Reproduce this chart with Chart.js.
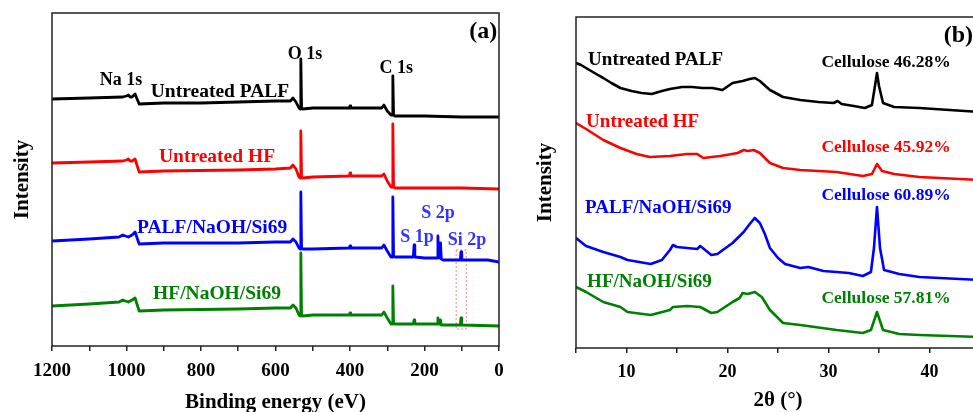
<!DOCTYPE html>
<html>
<head>
<meta charset="utf-8">
<script src="https://cdn.jsdelivr.net/npm/chart.js@4.4.0/dist/chart.umd.min.js"></script>
<style>
  html, body { margin: 0; padding: 0; background: #fff; overflow: hidden; width: 973px; height: 412px; }
  #wrap { position: relative; width: 973px; height: 412px; overflow: hidden; }
  #xps { position: absolute; left: 0; top: 0; }
  #xrd { position: absolute; left: 510px; top: 0; }
</style>
</head>
<body>
<div id="wrap">
  <canvas id="xps" width="510" height="412"></canvas>
  <canvas id="xrd" width="471" height="412"></canvas>
</div>
<script>
// ---- (a) XPS survey: [binding energy eV, intensity a.u.]
const xpsPalf = [[1200,247],[1100,248],[1010,249],[1000,250],[995,251],[990,249],[985,249],[977,252],[966,242],[900,243],[800,243],[700,244],[600,245],[560,245],[553,248],[545,244],[537,238],[534,237],[532,287],[530,238],[527,237],[500,238],[402,238],[400,240],[398,238],[315,238],[309,241],[300,235],[290,231],[287,231],[285,270],[283,231],[280,230],[200,230],[100,229],[0,229]];
const xpsHf = [[1200,183],[1100,184],[1010,185],[1000,186],[995,187],[990,185],[985,185],[977,187],[966,174],[900,175],[700,176],[600,177],[560,178],[553,181],[545,177],[537,169],[534,168],[532,215],[530,169],[527,168],[500,169],[402,170],[400,173],[398,170],[315,170],[309,172],[300,165],[290,159],[287,159],[285,222],[283,159],[280,158],[200,158],[100,158],[0,157]];
const xpsPalfSi = [[1200,105],[1100,107],[1020,109],[1010,111],[1003,110],[995,109],[985,111],[977,114],[966,102],[900,103],[700,103],[600,104],[560,104],[553,107],[545,104],[537,98],[534,97],[532,154],[530,98],[527,97],[500,97],[402,98],[400,100],[398,98],[315,98],[309,101],[300,95],[290,89],[287,89],[285,149],[283,90],[280,89],[230,89],[228,101],[226,89],[200,88],[166,88],[164,110],[162,89],[159,88],[157,103],[155,87],[150,86],[104,86],[102,94],[100,86],[30,86],[0,84]];
const xpsHfSi = [[1200,40],[1100,42],[1020,44],[1010,46],[1003,45],[995,44],[985,46],[977,48],[966,35],[900,36],[700,37],[600,38],[560,38],[553,41],[545,38],[537,31],[534,30],[532,93],[530,31],[527,30],[500,31],[402,31],[400,33],[398,31],[315,31],[309,34],[300,28],[290,22],[287,22],[285,60],[283,23],[280,22],[230,22],[228,26],[226,22],[166,22],[164,28],[162,22],[159,22],[157,26],[155,21],[104,21],[102,28],[100,21],[0,20]];
const siBox = [[115,96],[88,96],[88,17],[115,17],[115,96]];

// ---- (b) XRD: [2theta deg, intensity a.u.]
const xrdPalf = [[5,285],[5.5,283],[6,280],[7,274],[7.7,270],[8.5,265],[9.4,260],[10.5,257],[11.5,255],[12.5,254],[13.5,257],[14.3,259],[15.5,261],[16.5,261],[17.5,260],[18.5,260],[19.5,258],[20.5,265],[21.5,267],[22.2,269],[22.7,270],[23.2,267],[24.2,258],[25.5,251],[27.2,248],[29,246],[30.5,245],[30.9,247],[31.3,244],[32.5,242],[33.6,240],[34.3,243],[34.6,262],[34.8,275],[35,262],[35.4,245],[36.5,241],[39,240],[42,238],[45,236]];
const xrdHf = [[5,225],[6,219],[7.7,208],[9.4,200],[11,194],[12.3,191],[14.3,192],[16,194],[17,194],[17.6,190],[19.3,192],[21,195],[21.6,198],[22,197],[22.6,198],[23.2,195],[24.2,185],[25.5,180],[27.2,178],[30.8,176],[33.4,172],[34.3,174],[34.8,184],[35.3,177],[36.5,174],[39,171],[45,168]];
const xrdPalfSi = [[5,110],[6,102],[7.7,96],[9.4,91],[10.1,88],[12.4,84],[13.5,88],[14.3,98],[14.6,103],[15,101],[16,100],[17,99],[17.3,102],[18.4,93],[19,94],[20.5,105],[21,110],[21.6,116],[22.2,124],[22.7,130],[23.2,125],[23.7,114],[24.2,100],[25,90],[25.7,84],[27.2,80],[28,81],[29.5,77],[30.8,76],[32,75],[33.4,72],[34.2,76],[34.5,100],[34.8,141],[35.1,100],[35.5,78],[37,74],[39,71],[45,68]];
const xrdHfSi = [[5,61],[6,56],[7.7,46],[9.4,41],[10.1,36],[12.4,33],[14.3,38],[14.6,41],[16,42],[17.3,41],[18.4,35],[19,36],[20.5,46],[21.2,50],[21.5,55],[22,54],[22.7,56],[23.4,51],[24.2,38],[25.5,25],[27.2,23],[30.8,18],[33.4,15],[34.2,18],[34.8,36],[35.4,18],[37,14],[39,13],[45,11]];

// text labels: [text, x value, y value, colour, size, align]
const xpsLabels = [
  ["(a)", 5, 314, "#000", 24, "right"],
  ["O 1s", 521, 292, "#000", 18, "center"],
  ["C 1s", 276, 278, "#000", 18, "center"],
  ["Na 1s", 1015, 266, "#000", 18, "center"],
  ["Untreated PALF", 749, 254, "#000", 19.5, "center"],
  ["Untreated HF", 757, 189, "#ff0000", 19.5, "center"],
  ["PALF/NaOH/Si69", 770, 118, "#0000ff", 19.5, "center"],
  ["HF/NaOH/Si69", 757, 52, "#008000", 19.5, "center"],
  ["S 2p", 164, 133, "#3333ff", 18, "center"],
  ["S 1p", 220, 109, "#3333ff", 18, "center"],
  ["Si 2p", 86, 106, "#3333ff", 18, "center"]
];
const xrdLabels = [
  ["(b)", 41.4, 312, "#000", 24, "left"],
  ["Untreated PALF", 6.2, 288, "#000", 19, "left"],
  ["Cellulose 46.28%", 35.7, 286, "#000", 17.5, "center"],
  ["Untreated HF", 6.0, 226, "#ff0000", 19, "left"],
  ["Cellulose 45.92%", 35.7, 201, "#ff0000", 17.5, "center"],
  ["PALF/NaOH/Si69", 5.9, 140, "#0000ff", 19, "left"],
  ["Cellulose 60.89%", 35.7, 153, "#0000ff", 17.5, "center"],
  ["HF/NaOH/Si69", 6.1, 66, "#008000", 19, "left"],
  ["Cellulose 57.81%", 35.7, 50, "#008000", 17.5, "center"]
];

const FONT = '"Liberation Serif", "Times New Roman", serif';

const toPts = arr => arr.map(p => ({ x: p[0], y: p[1] }));

function line(data, color, width) {
  return { data: toPts(data), borderColor: color, borderWidth: width, borderJoinStyle: "round", borderCapStyle: "round",
    pointRadius: 0, showLine: true, fill: false, tension: 0 };
}

const framePlugin = {
  id: "frame",
  afterDraw(chart) {
    const { ctx, chartArea: a } = chart;
    ctx.save();
    ctx.strokeStyle = "#222";
    ctx.lineWidth = 1.5;
    ctx.strokeRect(a.left, a.top, a.right - a.left, a.bottom - a.top);
    ctx.restore();
  }
};

function labelPlugin(labels) {
  return {
    id: "labels",
    afterDatasetsDraw(chart) {
      const { ctx, scales } = chart;
      ctx.save();
      ctx.textBaseline = "middle";
      labels.forEach(([t, xv, yv, c, s, al]) => {
        ctx.font = `bold ${s}px ${FONT}`;
        ctx.fillStyle = c;
        ctx.textAlign = al;
        ctx.fillText(t, scales.x.getPixelForValue(xv), scales.y.getPixelForValue(yv));
      });
      ctx.restore();
    }
  };
}

function noPad(s) {
  s.paddingLeft = 0; s.paddingRight = 0; s.paddingTop = 0; s.paddingBottom = 0;
}

function baseOptions(o) {
  return {
    responsive: false,
    animation: false,
    layout: { padding: { top: o.top, right: o.right, left: 0, bottom: 0 } },
    plugins: { legend: { display: false }, tooltip: { enabled: false } },
    scales: {
      x: {
        type: "linear", reverse: o.reverse, min: o.xmin, max: o.xmax,
        ticks: {
          stepSize: o.step, autoSkip: false, maxRotation: 0, color: "#000", padding: 9,
          font: { family: FONT, size: o.tickSize, weight: "bold" },
          callback: v => (v % o.labelStep === 0 ? v : "")
        },
        grid: { drawOnChartArea: false, drawTicks: true, tickLength: 5, color: "#222", lineWidth: 1.5 },
        border: { display: false },
        title: { display: true, text: o.xTitle, color: "#000", padding: 0, font: { family: FONT, size: 21, weight: "bold", lineHeight: o.xTitleLH } },
        afterFit: s => { s.height = o.xH; noPad(s); }
      },
      y: {
        min: 0, max: o.ymax,
        ticks: { display: false },
        grid: { display: false },
        border: { display: false },
        title: { display: true, text: "Intensity", color: "#000", padding: { top: o.yPad, bottom: 0 }, font: { family: FONT, size: 21, weight: "bold", lineHeight: 1.2 } },
        afterFit: s => { s.width = o.yW; noPad(s); }
      }
    }
  };
}

new Chart(document.getElementById("xps").getContext("2d"), {
  type: "scatter",
  data: {
    datasets: [
      line(xpsPalf, "#000", 2.8),
      line(xpsHf, "#ff0000", 2.8),
      line(xpsPalfSi, "#0000ff", 2.8),
      line(xpsHfSi, "#008000", 2.8),
      Object.assign(line(siBox, "#f08080", 1), { borderDash: [2, 2], borderJoinStyle: "miter", borderCapStyle: "butt" })
    ]
  },
  options: baseOptions({ top: 13, right: 11, reverse: true, xmin: 0, xmax: 1200, step: 100, labelStep: 200, tickSize: 19,
    xTitle: "Binding energy (eV)", xTitleLH: 0.9, xH: 66, ymax: 333, yPad: 10, yW: 52 }),
  plugins: [framePlugin, labelPlugin(xpsLabels)]
});

new Chart(document.getElementById("xrd").getContext("2d"), {
  type: "scatter",
  data: {
    datasets: [
      line(xrdPalf, "#000", 2.6),
      line(xrdHf, "#ff0000", 2.6),
      line(xrdPalfSi, "#0000ff", 2.6),
      line(xrdHfSi, "#008000", 2.6)
    ]
  },
  options: baseOptions({ top: 17, right: 1, reverse: false, xmin: 5, xmax: 45, step: 5, labelStep: 10, tickSize: 18,
    xTitle: "2θ (°)", xTitleLH: 1.1, xH: 64, ymax: 331, yPad: 23, yW: 66 }),
  plugins: [framePlugin, labelPlugin(xrdLabels)]
});
</script>
</body>
</html>
